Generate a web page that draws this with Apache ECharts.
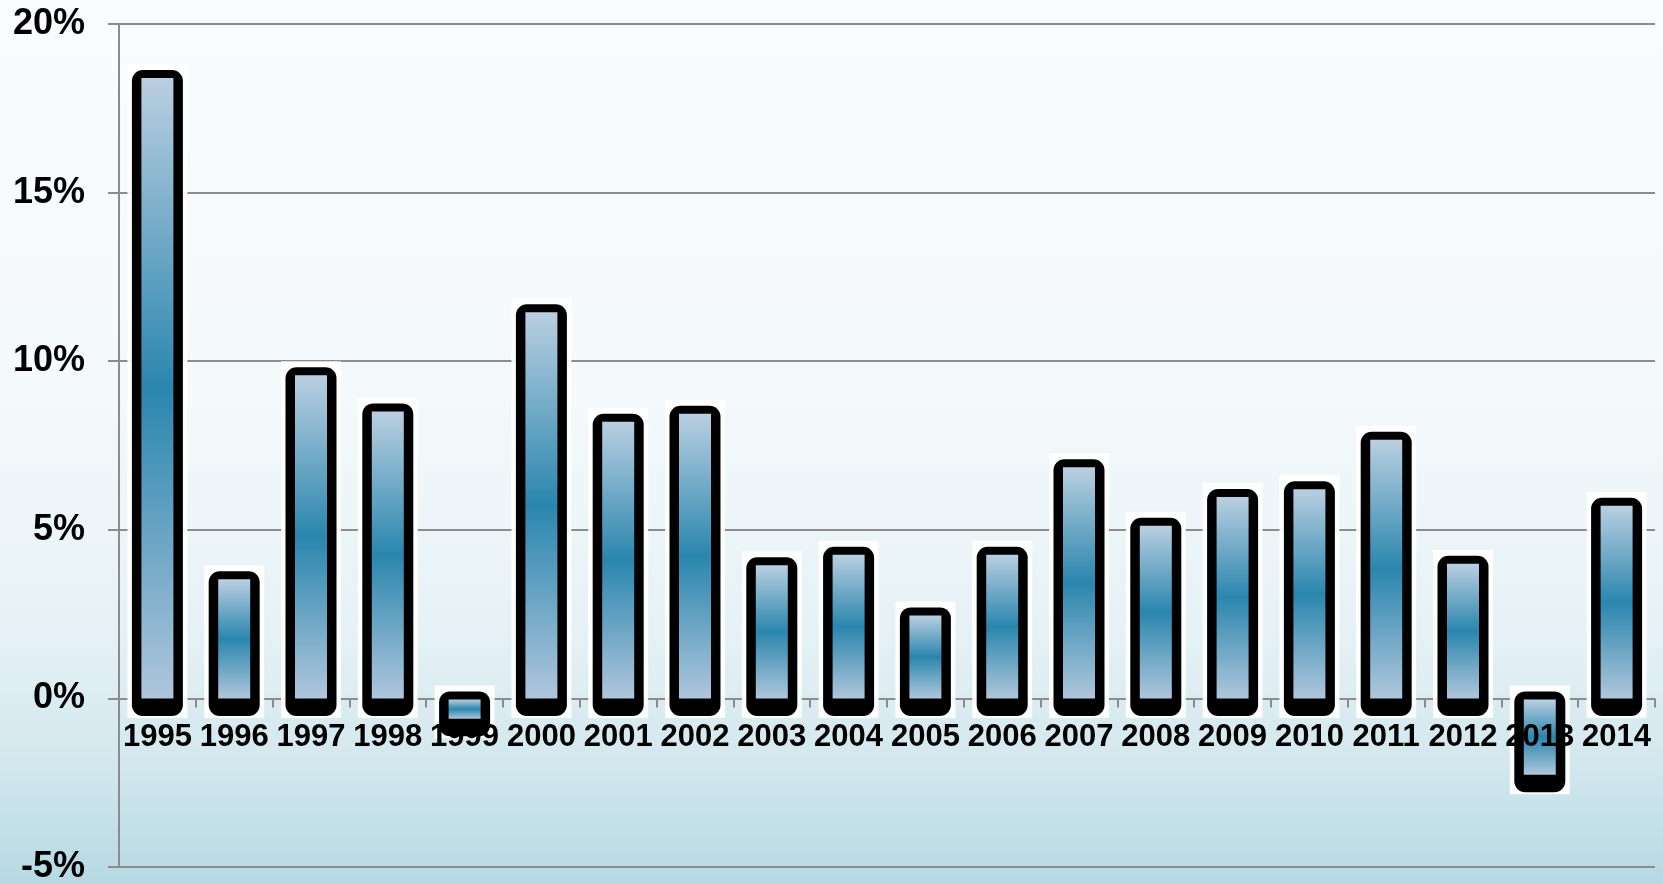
<!DOCTYPE html>
<html>
<head>
<meta charset="utf-8">
<script src="https://cdn.jsdelivr.net/npm/echarts@6/dist/echarts.min.js"></script>
<style>
  html, body { margin: 0; padding: 0; }
  #chart { width: 1663px; height: 884px; }
</style>
</head>
<body>
<div id="chart"></div>
<script>
// Annual growth, percent
const years = ['1995', '1996', '1997', '1998', '1999', '2000', '2001', '2002', '2003', '2004',
               '2005', '2006', '2007', '2008', '2009', '2010', '2011', '2012', '2013', '2014'];
const growth = [18.52, 3.65, 9.70, 8.63, -0.71, 11.57, 8.32, 8.56, 4.07, 4.38,
                2.58, 4.38, 6.97, 5.24, 6.09, 6.32, 7.79, 4.11, -2.37, 5.83];
const yMin = -5;
const yMax = 20;
const yStep = 5;

const CHART_W = 1663;
const CHART_H = 884;
const GRID = { left: 119, right: 8, top: 24, bottom: 17 };

// Lift the category axis from the plot bottom up to the 0% line
const plotH = CHART_H - GRID.top - GRID.bottom;
const zeroLift = plotH * (0 - yMin) / (yMax - yMin);

const chart = echarts.init(document.getElementById('chart'));

const bgGradient = new echarts.graphic.LinearGradient(0, 0, 0, 1, [
  { offset: 0, color: '#f9fcfd' },
  { offset: 0.45, color: '#f4f9fb' },
  { offset: 0.7, color: '#e7f2f6' },
  { offset: 0.86, color: '#d3e8ee' },
  { offset: 1, color: '#b6d9e3' }
]);

// Vertical fill: pale at both ends, deep teal-blue in the middle
function barFill() {
  return new echarts.graphic.LinearGradient(0, 0, 0, 1, [
    { offset: 0, color: '#bacfe1' },
    { offset: 0.5, color: '#2a86ae' },
    { offset: 1, color: '#afc6dc' }
  ]);
}

// Bar pieces, in pixels
const CORE_W = 32;
const FRAME_W = 51;
const HALO_W = 60;

// Each bar: white backing box, thick black rounded frame with a heavier base, gradient core
function renderBar(params, api) {
  const idx = api.value(0);
  const val = api.value(1);
  const top = api.coord([idx, val]);
  const zero = api.coord([idx, 0]);
  const cx = top[0];
  const yv = top[1];
  const y0 = zero[1];

  let coreTop, coreBot;
  if (val >= 0) {
    coreTop = yv + 4;
    coreBot = y0;
  } else {
    coreTop = y0 + 1;
    coreBot = yv - 3.5;
  }
  const frameTop = coreTop - 8;
  const frameBot = coreBot + 17.5;

  return {
    type: 'group',
    children: [
      {
        type: 'rect',
        shape: { x: cx - HALO_W / 2, y: frameTop - 6, width: HALO_W, height: frameBot - frameTop + 8 },
        style: { fill: 'rgba(255,255,255,0.92)' }
      },
      {
        type: 'rect',
        shape: { x: cx - FRAME_W / 2, y: frameTop, width: FRAME_W, height: frameBot - frameTop, r: 11 },
        style: { fill: '#000000' }
      },
      {
        type: 'rect',
        shape: { x: cx - CORE_W / 2, y: coreTop, width: CORE_W, height: Math.max(coreBot - coreTop, 1) },
        style: { fill: barFill() }
      }
    ]
  };
}

const option = {
  backgroundColor: bgGradient,
  animation: false,
  grid: {
    left: GRID.left,
    right: GRID.right,
    top: GRID.top,
    bottom: GRID.bottom,
    containLabel: false,
    outerBoundsMode: 'none'
  },
  xAxis: {
    type: 'category',
    data: years,
    position: 'bottom',
    offset: -zeroLift,
    z: 10,
    axisLine: { show: false, onZero: false },
    axisTick: {
      show: true,
      length: 9,
      lineStyle: { color: '#8c8c8c', width: 2 }
    },
    axisLabel: {
      show: true,
      color: '#000000',
      fontFamily: 'Liberation Sans, Arial, sans-serif',
      fontWeight: 'bold',
      fontSize: 31,
      margin: 24,
      interval: 0
    },
    splitLine: { show: false }
  },
  yAxis: {
    type: 'value',
    min: yMin,
    max: yMax,
    interval: yStep,
    axisLine: { show: true, lineStyle: { color: '#8c8c8c', width: 2 } },
    axisTick: { show: true, length: 11, lineStyle: { color: '#8c8c8c', width: 2 } },
    axisLabel: {
      color: '#000000',
      fontFamily: 'Liberation Sans, Arial, sans-serif',
      fontWeight: 'bold',
      fontSize: 36,
      margin: 34,
      formatter: function (v) { return v + '%'; }
    },
    splitLine: { show: true, lineStyle: { color: '#8c8c8c', width: 2 } }
  },
  series: [
    {
      type: 'custom',
      renderItem: renderBar,
      encode: { x: 0, y: 1 },
      data: growth.map(function (v, i) { return [i, v]; }),
      z: 2
    }
  ]
};

chart.setOption(option);
</script>
</body>
</html>
